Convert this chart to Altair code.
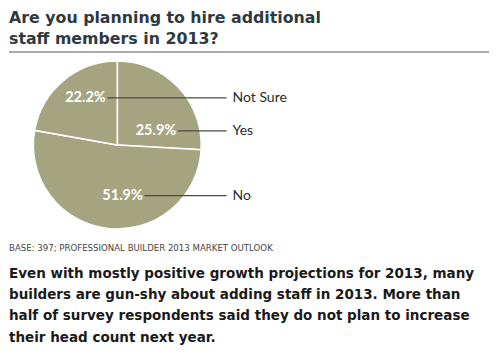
import altair as alt
import pandas as pd

# ---------------- data ----------------
categories = ["Yes", "No", "Not Sure"]
values = [25.9, 51.9, 22.2]

title_lines = ["Are you planning to hire additional", "staff members in 2013?"]
source_note = "BASE: 397; PROFESSIONAL BUILDER 2013 MARKET OUTLOOK"
body_lines = [
    "Even with mostly positive growth projections for 2013, many",
    "builders are gun-shy about adding staff in 2013. More than",
    "half of survey respondents said they do not plan to increase",
    "their head count next year.",
]

# ---------------- layout / style ----------------
TOP = 12                 # top padding (keeps the title inside the picture)
W, H = 484, 347 - TOP    # view size (autosize none)
R = 84                   # pie radius in px
CX, CY = 109.3, 137.0 - TOP   # pie centre in px inside the view
PIE = "#a4a580"
TITLE_COLOR = "#2e3942"
FONT = "Lato"
TFONT = "DejaVu Sans"
LINE_END = 1.30          # leader-line end, in pie radii from centre
# label placement (angle clockwise from 12 o'clock in degrees, radius fraction)
placement = {"Yes": (70, 0.49), "No": (174, 0.607), "Not Sure": (326, 0.678)}

x_dom = [-CX / R, (W - CX) / R]
y_dom = [(CY - H) / R, CY / R]
xs = alt.Scale(domain=x_dom, nice=False, zero=False)
ys = alt.Scale(domain=y_dom, nice=False, zero=False)

df = pd.DataFrame({"category": categories, "value": values,
                   "order": list(range(len(categories)))})
df["label_angle"] = [placement[c][0] for c in categories]
df["label_r"] = [placement[c][1] for c in categories]

base = alt.Chart(df)

pie = base.mark_arc(radius=R, stroke="white", strokeWidth=1.6, color=PIE).encode(
    theta=alt.Theta("value:Q", stack=True),
    order=alt.Order("order:Q"),
    x=alt.XDatum(0, type="quantitative", scale=xs, axis=None),
    y=alt.YDatum(0, type="quantitative", scale=ys, axis=None),
)

labels = base.transform_calculate(
    lx="datum.label_r * sin(datum.label_angle * PI / 180)",
    ly="datum.label_r * cos(datum.label_angle * PI / 180)",
).transform_calculate(
    pct="format(datum.value, '.1f') + '%'",
    x0="datum.lx + 0.26",
    x1=str(LINE_END),
)

leaders = labels.mark_rule(color="#4a4a4a", strokeWidth=1.2).encode(
    x=alt.X("x0:Q", scale=xs, axis=None),
    x2="x1:Q",
    y=alt.Y("ly:Q", scale=ys, axis=None),
)

pct_text = labels.mark_text(font=FONT, fontSize=14.5, fontWeight="bold",
                            color="white", align="center", baseline="middle").encode(
    x=alt.X("lx:Q", scale=xs, axis=None),
    y=alt.Y("ly:Q", scale=ys, axis=None),
    text="pct:N",
)

cat_text = labels.mark_text(font=FONT, fontSize=14, color="#2b2b2b",
                            align="left", baseline="middle", dx=6).encode(
    x=alt.X("x1:Q", scale=xs, axis=None),
    y=alt.Y("ly:Q", scale=ys, axis=None),
    text="category:N",
)

one = alt.Data(values=[{}])

title = alt.Chart(one).mark_text(
    text=title_lines, font=TFONT, fontSize=15.8, fontWeight="bold",
    color=TITLE_COLOR, align="left", baseline="alphabetic", lineHeight=21,
).encode(x=alt.value(1), y=alt.value(14.5 - TOP))

title_rule = alt.Chart(one).mark_rule(color="#8c9094", strokeWidth=1.6).encode(
    x=alt.value(1), x2=alt.value(481), y=alt.value(44 - TOP)
)

note = alt.Chart(one).mark_text(
    text=source_note, font=TFONT, fontSize=8.6, color="#444444",
    align="left", baseline="alphabetic",
).encode(x=alt.value(1), y=alt.value(242.7 - TOP))

body = alt.Chart(one).mark_text(
    text=body_lines, font=TFONT, fontSize=13.5, fontWeight="bold", color="#1a1a1a",
    align="left", baseline="alphabetic", lineHeight=21.3,
).encode(x=alt.value(1), y=alt.value(269.7 - TOP))

chart = alt.layer(pie, leaders, pct_text, cat_text, title, title_rule, note, body).properties(
    width=W, height=H,
    autosize=alt.AutoSizeParams(type="none"),
    padding={"left": 0, "top": TOP, "right": 0, "bottom": 0},
    background="white",
).configure_view(stroke=None)

chart.save("out.html", embed_options={"renderer": "svg", "actions": False})
